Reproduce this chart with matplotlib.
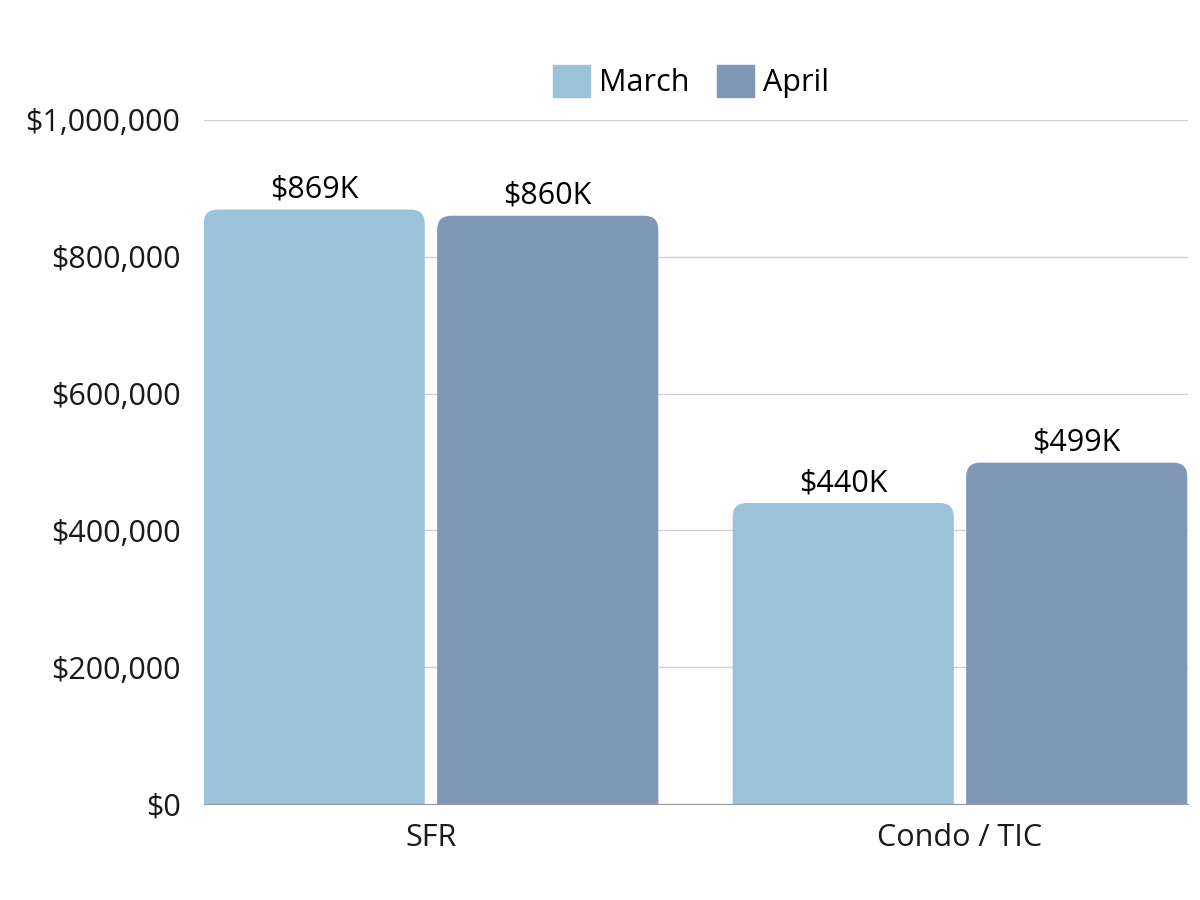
import matplotlib.pyplot as plt
from matplotlib.patches import FancyBboxPatch
from matplotlib.ticker import FuncFormatter

plt.rcParams['font.family'] = ['Open Sans', 'DejaVu Sans']

categories = ['SFR', 'Condo / TIC']
series = ['March', 'April']
march = [869000, 440000]
april = [860000, 499000]
colors = ['#9BC2D8', '#7F98B5']

fig = plt.figure(figsize=(12, 9), dpi=100)
ax = fig.add_axes([0.17, 0.1067, 0.82, 0.76])

width = 0.418
offset = 0.2207
x = range(len(categories))

ax.set_xlim(-0.429, 1.431)
ax.set_ylim(0, 1000000)

# data units per pixel, to keep round corners circular
px_x = (1.431 + 0.429) / (0.82 * 1200)
px_y = 1000000 / (0.76 * 900)
r_px = 14

for vals, sgn, col, name in [(march, -1, colors[0], series[0]), (april, 1, colors[1], series[1])]:
    bars = ax.bar([i + sgn * offset for i in x], vals, width, color=col, label=name)
    for b, v in zip(bars, vals):
        b.set_visible(False)
        ext = r_px * px_y * 2
        p = FancyBboxPatch((b.get_x(), -ext), b.get_width(), v + ext,
                           boxstyle=f"round,pad=0,rounding_size={r_px * px_x}",
                           mutation_aspect=px_y / px_x,
                           facecolor=col, edgecolor='none', zorder=2)
        ax.add_patch(p)
        ax.text(b.get_x() + b.get_width() / 2, v + 7000, f"${v // 1000}K",
                ha='center', va='bottom', fontsize=22, color='black')

ax.yaxis.set_major_formatter(FuncFormatter(lambda v, p: f"${v:,.0f}"))
ax.set_yticks(range(0, 1000001, 200000))
ax.set_xticks(list(x))
ax.set_xticklabels(categories)
ax.tick_params(axis='both', length=0, labelsize=22, colors='#1a1a1a')
ax.tick_params(axis='x', pad=14)
ax.tick_params(axis='y', pad=17)
ax.grid(axis='y', color='#d0d0d0', linewidth=1)
ax.set_axisbelow(True)
for s in ['top', 'right', 'left']:
    ax.spines[s].set_visible(False)
ax.spines['bottom'].set_color('#999999')
ax.spines['bottom'].set_zorder(3)

leg_handles = [plt.Rectangle((0, 0), 1, 1, color=c) for c in colors]
fig.legend(leg_handles, series, loc='center', bbox_to_anchor=(0.576, 0.909), ncol=2,
           frameon=False, fontsize=22, handlelength=1.2, handleheight=1.2,
           handletextpad=0.3, columnspacing=0.9)

fig.savefig('out.png', dpi=100)
